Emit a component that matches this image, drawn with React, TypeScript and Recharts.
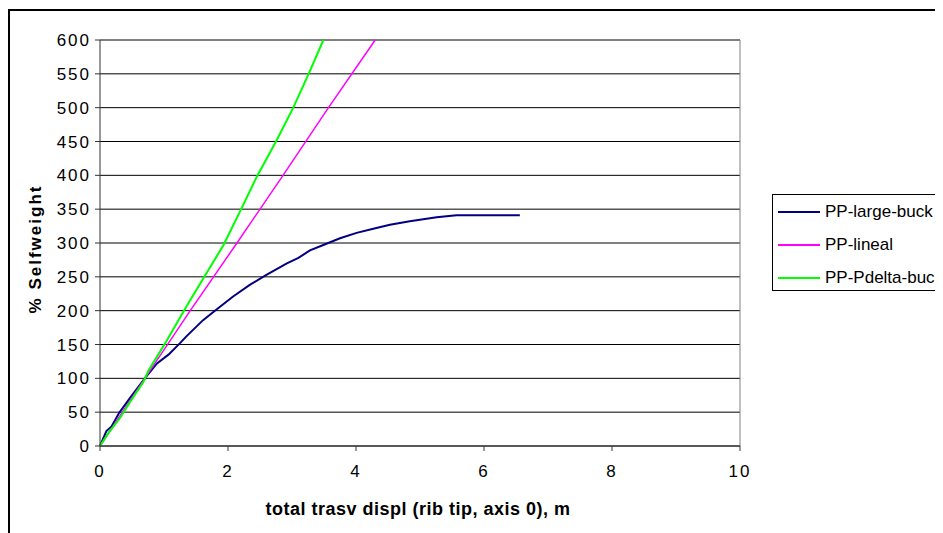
import { LineChart, Line, XAxis, YAxis, CartesianGrid, ReferenceLine, Label } from 'recharts';

const largeBuckX = [0, 0.1, 0.18, 0.3, 0.47, 0.7, 0.89, 1.07, 1.25, 1.35, 1.61, 1.85, 2.08, 2.34, 2.6, 2.92, 3.1, 3.28, 3.49, 3.75, 4.01, 4.27, 4.53, 4.84, 5.26, 5.57, 6.56];
const largeBuckY = [0, 22, 29, 49, 71, 100, 122, 135, 152, 162, 186, 204, 221, 238, 253, 270, 278, 289, 297, 307, 315, 321, 327, 332, 338, 341, 341];

const linealX = [0, 0.7, 1.41, 2.14, 2.86, 3.57, 4.3];
const linealY = [0, 100, 200, 300, 400, 500, 600];

const pdeltaX = [0, 0.13, 0.31, 0.47, 0.68, 0.76, 1.02, 1.35, 1.63, 1.93, 2.2, 2.45, 2.75, 3.02, 3.26, 3.49];
const pdeltaY = [0, 19, 41, 65, 95, 112, 152, 206, 250, 297, 349, 398, 450, 500, 550, 600];

const xTicks = [0, 2, 4, 6, 8, 10];
const yTicks = [0, 50, 100, 150, 200, 250, 300, 350, 400, 450, 500, 550, 600];

const SERIES = [
  { name: 'PP-large-buck', xs: largeBuckX, ys: largeBuckY, color: '#000080', width: 2 },
  { name: 'PP-lineal', xs: linealX, ys: linealY, color: '#FF00FF', width: 1.5 },
  { name: 'PP-Pdelta-buck', xs: pdeltaX, ys: pdeltaY, color: '#00FF00', width: 2 },
];

const FONT = '"Liberation Sans", Arial, sans-serif';

const zip = (xs: number[], ys: number[]) => xs.map((x, i) => ({ x, y: ys[i] }));

// legend box, drawn by hand (Excel style, clipped at the right edge)
function ChartLegend() {
  return (
    <div
      style={{
        position: 'absolute',
        left: 764,
        top: 186,
        width: 200,
        height: 97,
        border: '1px solid #000',
        background: '#fff',
        fontFamily: FONT,
        fontSize: 17,
        boxSizing: 'border-box',
      }}
    >
      {SERIES.map((s, i) => (
        <div key={s.name} style={{ position: 'absolute', left: 5, top: 4 + i * 33, height: 26, display: 'flex', alignItems: 'center', whiteSpace: 'nowrap' }}>
          <div style={{ width: 42, height: 0, borderTop: `2px solid ${s.color}`, marginRight: 5 }} />
          <span>{s.name}</span>
        </div>
      ))}
    </div>
  );
}

export default function App() {
  return (
    <div style={{ position: 'relative', width: 927, height: 525, overflow: 'hidden', background: '#fff' }}>
      <div style={{ position: 'absolute', left: 0, top: 0 }}>
        <LineChart width={927} height={525} margin={{ top: 32, right: 195, left: 0, bottom: 57 }}>
          <CartesianGrid horizontal vertical={false} stroke="#000" strokeOpacity={1} />
          <XAxis
            dataKey="x"
            type="number"
            domain={[0, 10]}
            ticks={xTicks}
            interval={0}
            height={30}
            tickSize={5}
            tickMargin={14}
            stroke="#333"
            tick={{ fill: '#000', fontSize: 17, fontFamily: FONT, letterSpacing: 2 }}
            allowDuplicatedCategory={false}
          >
            <Label
              content={() => (
                <text x={410} y={507} textAnchor="middle" fontFamily={FONT} fontSize={18} fontWeight="bold" letterSpacing={0.5} fill="#000">
                  total trasv displ (rib tip, axis 0), m
                </text>
              )}
            />
          </XAxis>
          <YAxis
            type="number"
            domain={[0, 600]}
            ticks={yTicks}
            interval={0}
            width={92}
            tickSize={5}
            tickMargin={4}
            stroke="#333"
            tick={{ fill: '#000', fontSize: 17, fontFamily: FONT, letterSpacing: 2 }}
          >
            <Label
              content={() => (
                <text
                  x={27}
                  y={241}
                  transform="rotate(-90, 27, 241)"
                  textAnchor="middle"
                  dominantBaseline="central"
                  fontFamily={FONT}
                  fontSize={17}
                  fontWeight="bold"
                  letterSpacing={2}
                  fill="#000"
                >
                  % Selfweight
                </text>
              )}
            />
          </YAxis>
          <ReferenceLine y={600} stroke="#808080" />
          <ReferenceLine x={10} stroke="#808080" />
          {SERIES.map((s) => (
            <Line
              key={s.name}
              data={zip(s.xs, s.ys)}
              dataKey="y"
              name={s.name}
              type="linear"
              stroke={s.color}
              strokeWidth={s.width}
              dot={false}
              activeDot={false}
              isAnimationActive={false}
            />
          ))}
        </LineChart>
      </div>
      <div style={{ position: 'absolute', left: 0, top: 1, width: 2, height: 600, background: '#000' }} />
      <div style={{ position: 'absolute', left: 0, top: 1, width: 1000, height: 2, background: '#000' }} />
      <ChartLegend />
    </div>
  );
}
